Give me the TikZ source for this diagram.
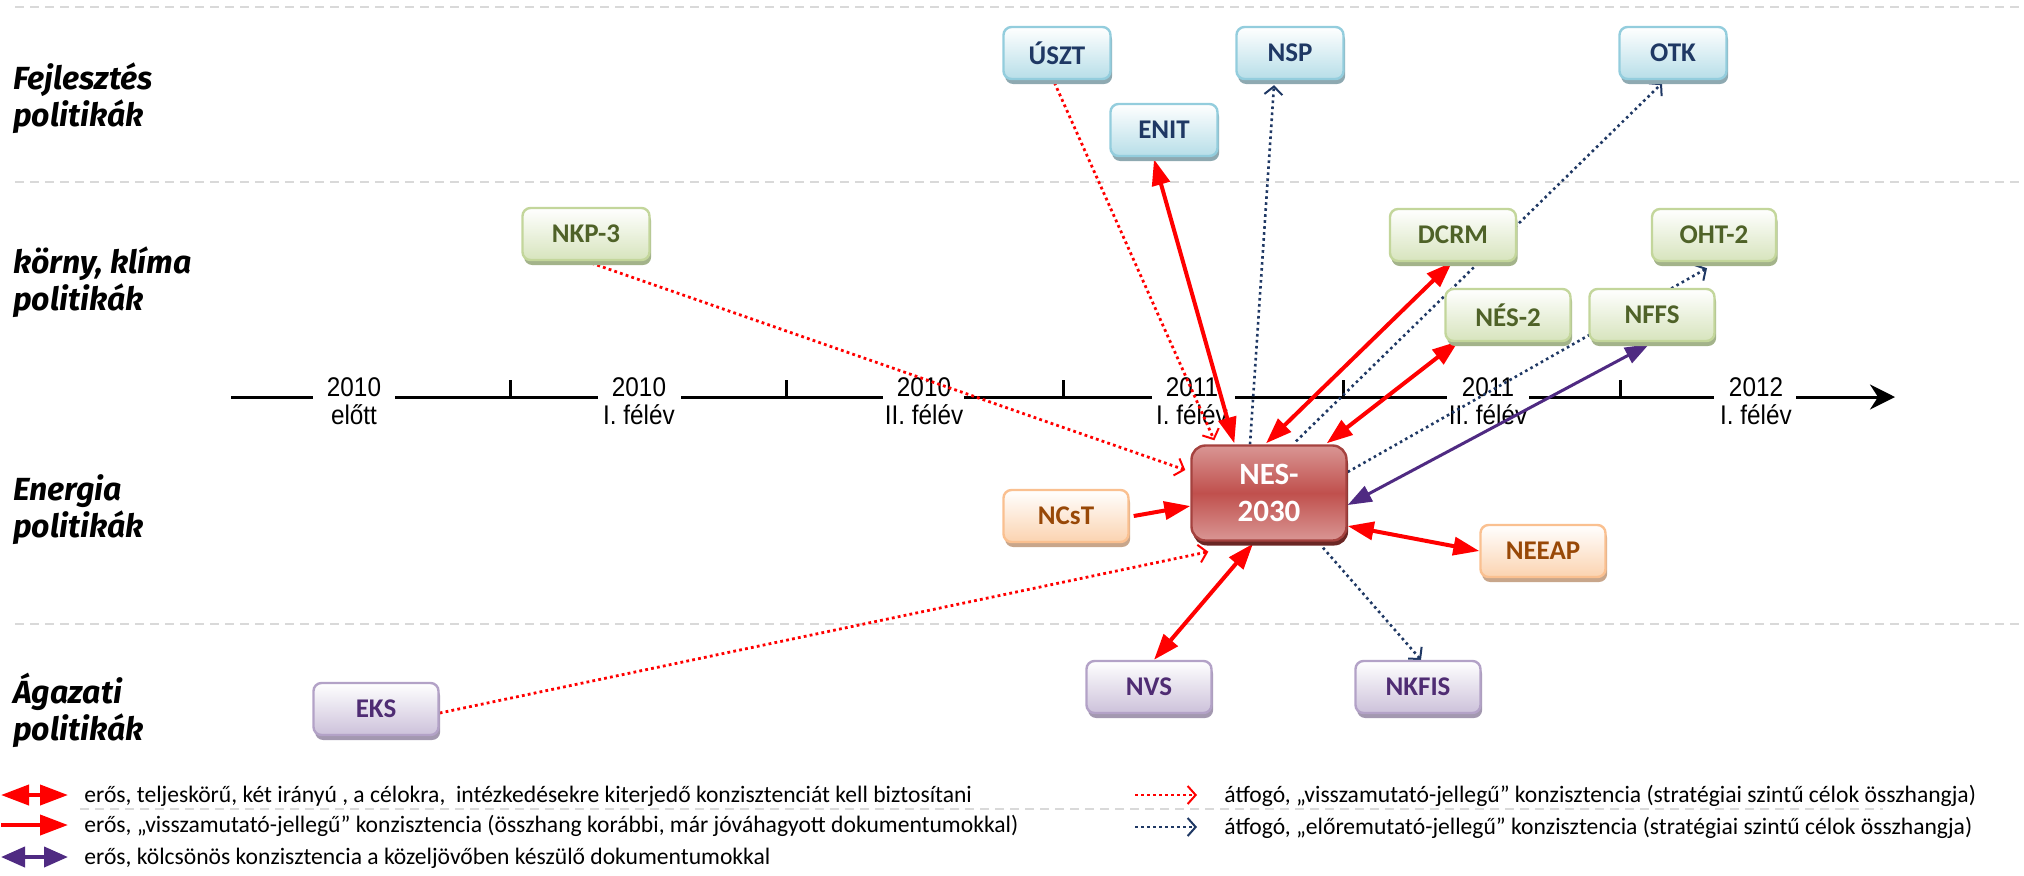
\documentclass[tikz,border=0pt]{standalone}
\usepackage{fontspec}
\setmainfont{Carlito}
\newfontfamily\tlfont[FakeStretch=0.9]{Liberation Sans}
\newfontfamily\sidefont{Fira Sans}
\usetikzlibrary{arrows.meta,calc,shadows}
\pgfdeclarelayer{bg}
\pgfsetlayers{bg,main}
\definecolor{gridgray}{HTML}{D9D9D9}
\definecolor{bluebd}{HTML}{93CDDD}
\definecolor{bluefill}{HTML}{B7DEE8}
\definecolor{blueshd}{HTML}{8EA9B1}
\definecolor{bluetxt}{HTML}{1F3864}
\definecolor{greenbd}{HTML}{C3D69B}
\definecolor{greenfill}{HTML}{D7E4BD}
\definecolor{greenshd}{HTML}{A3B38A}
\definecolor{greentxt}{HTML}{4F6228}
\definecolor{orangebd}{HTML}{FAC090}
\definecolor{orangefill}{HTML}{FBD3B0}
\definecolor{orangeshd}{HTML}{C8A68B}
\definecolor{orangetxt}{HTML}{984807}
\definecolor{purplebd}{HTML}{B3A2C7}
\definecolor{purplefill}{HTML}{CCC1DA}
\definecolor{purpleshd}{HTML}{A398B0}
\definecolor{purpletxt}{HTML}{4F2C73}
\definecolor{nesdark}{HTML}{C0504D}
\definecolor{neslight}{HTML}{D99694}
\definecolor{nesbd}{HTML}{A5423F}
\definecolor{nesshd}{HTML}{6B2725}
\definecolor{arrred}{HTML}{FF0000}
\definecolor{arrpurple}{HTML}{4F2A82}
\definecolor{dotblue}{HTML}{1F3864}
\tikzset{
  box/.style={rounded corners=4pt, line width=1.2pt, minimum height=26pt, minimum width=62.5pt,
    font=\fontsize{13.5}{16}\selectfont\bfseries, inner sep=0pt},
  bluebox/.style={box, minimum width=53.5pt, draw=bluebd, top color=white, bottom color=bluefill, text=bluetxt,
    drop shadow={shadow xshift=0.8pt, shadow yshift=-2.5pt, fill=blueshd, opacity=1}},
  greenbox/.style={box, draw=greenbd, top color=white, bottom color=greenfill, text=greentxt,
    drop shadow={shadow xshift=0.8pt, shadow yshift=-2.5pt, fill=greenshd, opacity=1}},
  orangebox/.style={box, draw=orangebd, top color=white, bottom color=orangefill, text=orangetxt,
    drop shadow={shadow xshift=0.8pt, shadow yshift=-2.5pt, fill=orangeshd, opacity=1}},
  purplebox/.style={box, draw=purplebd, top color=white, bottom color=purplefill, text=purpletxt,
    drop shadow={shadow xshift=0.8pt, shadow yshift=-2.5pt, fill=purpleshd, opacity=1}},
  nesbox/.style={rounded corners=7pt, line width=1.2pt, minimum width=77.5pt, minimum height=47.5pt,
    draw=nesbd, top color=neslight, bottom color=neslight, middle color=nesdark, text=white,
    align=center, font=\fontsize{15.5}{18.5}\selectfont\bfseries, inner sep=0pt,
    drop shadow={shadow xshift=0.8pt, shadow yshift=-2.5pt, fill=nesshd, opacity=1}},
  sidelbl/.style={anchor=west, align=left, inner sep=0pt,
    font=\sidefont\fontsize{16}{18.5}\selectfont\bfseries\itshape},
  tllbl/.style={align=center, inner sep=0pt, font=\tlfont\fontsize{13.5}{14}\selectfont},
  legtxt/.style={anchor=west, inner sep=0pt, font=\fontsize{11.8}{13}\selectfont},
  gridline/.style={draw=gridgray, line width=1pt, dash pattern=on 4.5pt off 3pt},
  tl/.style={draw=black, line width=1.5pt},
  redboth/.style={draw=arrred, line width=2pt, {Triangle[length=13pt,width=9pt]}-{Triangle[length=13pt,width=9pt]}},
  redone/.style={draw=arrred, line width=2pt, -{Triangle[length=13pt,width=9pt]}},
  purpboth/.style={draw=arrpurple, line width=1.5pt, {Triangle[length=12pt,width=8.5pt]}-{Triangle[length=12pt,width=8.5pt]}},
  reddot/.style={draw=arrred, line width=1.4pt, dash pattern=on 1.4pt off 1.6pt,
    -{Straight Barb[length=4pt,width=9pt,line width=1pt]}},
  bluedot/.style={draw=dotblue, line width=1.3pt, dash pattern=on 1.3pt off 1.7pt,
    -{Straight Barb[length=4pt,width=9pt,line width=1pt]}},
  legred/.style={draw=arrred, line width=2pt, {Triangle[length=14pt,width=10pt]}-{Triangle[length=14pt,width=10pt]}},
  legredone/.style={draw=arrred, line width=2pt, -{Triangle[length=14pt,width=10pt]}},
  legpurp/.style={draw=arrpurple, line width=2pt, {Triangle[length=12pt,width=10pt]}-{Triangle[length=12pt,width=10pt]}},
}
\begin{document}
\begin{tikzpicture}[x=0.5pt,y=-0.5pt]
\useasboundingbox (0,0) rectangle (2024,875);
% side labels
\node[sidelbl] (s1) at (13,98.5) {Fejlesztés\\politikák};
\node[sidelbl] (s2) at (13,282.5) {körny, klíma\\politikák};
\node[sidelbl] (s3) at (13,510) {Energia\\politikák};
\node[sidelbl] (s4) at (13,710) {Ágazati\\politikák};
% boxes
\node[bluebox] (uszt) at (1057,53) {ÚSZT};
\node[bluebox] (nsp) at (1290,53) {NSP};
\node[bluebox] (otk) at (1673,53) {OTK};
\node[bluebox] (enit) at (1164,130) {ENIT};
\node[greenbox, minimum width=63.5pt] (nkp) at (586,234) {NKP-3};
\node[greenbox, minimum width=63pt] (dcrm) at (1453,235) {DCRM};
\node[greenbox, minimum width=62pt] (oht) at (1714,235) {OHT-2};
\node[greenbox] (nes2) at (1508,315) {NÉS-2};
\node[greenbox] (nffs) at (1652,315) {NFFS};
\node[nesbox] (nes) at (1269,493) {NES-\\2030};
\node[orangebox] (ncst) at (1066,516) {NCsT};
\node[orangebox] (neeap) at (1543,551) {NEEAP};
\node[purplebox] (nvs) at (1149,687) {NVS};
\node[purplebox] (nkfis) at (1418,687) {NKFIS};
\node[purplebox] (eks) at (376,709) {EKS};
\begin{pgfonlayer}{bg}
% grid lines
\draw[gridline] (15,7) -- (2020,7);
\draw[gridline] (15,182) -- (2020,182);
\draw[gridline] (15,624) -- (2020,624);
\draw[gridline] (80,809) -- (1883,809);
% timeline
\draw[tl] (231,397) -- (313,397);
\draw[tl] (395,397) -- (598,397);
\draw[tl] (681,397) -- (883,397);
\draw[tl] (964,397) -- (1152,397);
\draw[tl] (1235,397) -- (1447,397);
\draw[tl] (1529,397) -- (1714,397);
\draw[tl, -{Stealth[length=12.5pt,width=12.5pt,inset=4pt]}] (1796,397) -- (1895,397);
\draw[tl] (510,397) -- (510,380);
\draw[tl] (786,397) -- (786,380);
\draw[tl] (1063,397) -- (1063,380);
\draw[tl] (1343,397) -- (1343,380);
\draw[tl] (1620,397) -- (1620,380);
\node[tllbl] (t1) at (354,401) {2010\\előtt};
\node[tllbl] (t2) at (639,401) {2010\\I. félév};
\node[tllbl] (t3) at (924,401) {2010\\II. félév};
\node[tllbl] (t4) at (1192,401) {2011\\I. félév};
\node[tllbl] (t5) at (1488,401) {2011\\II. félév};
\node[tllbl] (t6) at (1756,401) {2012\\I. félév};
% dotted connectors
\draw[reddot] (nkp.south) -- ($(nes.west)+(-5,-23)$);
\draw[reddot] ($(uszt.south)+(-5,-3)$) -- ($(nes.north west)+(24,-4)$);
\draw[reddot] ($(eks.east)+(0,4)$) -- ($(nes.south west)+(18,10)$);
\draw[bluedot] ($(nes.south)+(54,6)$) -- ($(nkfis.north)+(3,0)$);
\draw[bluedot] ($(nes.north)+(-19,0)$) -- ($(nsp.south)+(-16,5)$);
\draw[bluedot] ($(nes.north)+(27,-3)$) -- ($(otk.south)+(-11,3)$);
\draw[bluedot] ($(nes.east)+(0,-21)$) -- ($(oht.south)+(-7,6)$);
% solid connectors
\draw[redboth] ($(nes.north west)+(44,-1)$) -- ($(enit.south)+(-10,2)$);
\draw[redboth] ($(nes.north)+(-3,-1)$) -- ($(dcrm.south)+(-1,0)$);
\draw[redboth] ($(nes.north east)+(-21,-1)$) -- ($(nes2.south west)+(14,-1)$);
\draw[purpboth] ($(nes.east)+(0,12)$) -- ($(nffs.south)+(-3,2)$);
\draw[redone] ($(ncst.east)+(4,0)$) -- ($(nes.west)+(0,13)$);
\draw[redboth] ($(nes.east)+(0,33)$) -- (neeap.west);
\draw[redboth] ($(nes.south)+(-16,2)$) -- ($(nvs.north)+(5,0)$);
\end{pgfonlayer}
% legend
\coordinate (l1a) at (1,795); \coordinate (l1b) at (68,795);
\coordinate (l2a) at (1,825); \coordinate (l2b) at (68,825);
\coordinate (l3a) at (1,857); \coordinate (l3b) at (68,857);
\coordinate (r1a) at (1135,795); \coordinate (r1b) at (1197,795);
\coordinate (r2a) at (1135,827); \coordinate (r2b) at (1197,827);
\draw[legred] (l1a) -- (l1b);
\draw[legredone] (l2a) -- (l2b);
\draw[legpurp] (l3a) -- (l3b);
\draw[reddot] (r1a) -- (r1b);
\draw[bluedot] (r2a) -- (r2b);
\node[legtxt] (lt1) at (84,796) {erős, teljeskörű, két irányú , a célokra,~ intézkedésekre kiterjedő konzisztenciát kell biztosítani};
\node[legtxt] (lt2) at (84,826) {erős, „visszamutató-jellegű” konzisztencia (összhang korábbi, már jóváhagyott dokumentumokkal)};
\node[legtxt] (lt3) at (84,858) {erős, kölcsönös konzisztencia a közeljövőben készülő dokumentumokkal};
\node[legtxt] (rt1) at (1224,796) {átfogó, „visszamutató-jellegű” konzisztencia (stratégiai szintű célok összhangja)};
\node[legtxt] (rt2) at (1224,828) {átfogó, „előremutató-jellegű” konzisztencia (stratégiai szintű célok összhangja)};
\end{tikzpicture}
\end{document}
